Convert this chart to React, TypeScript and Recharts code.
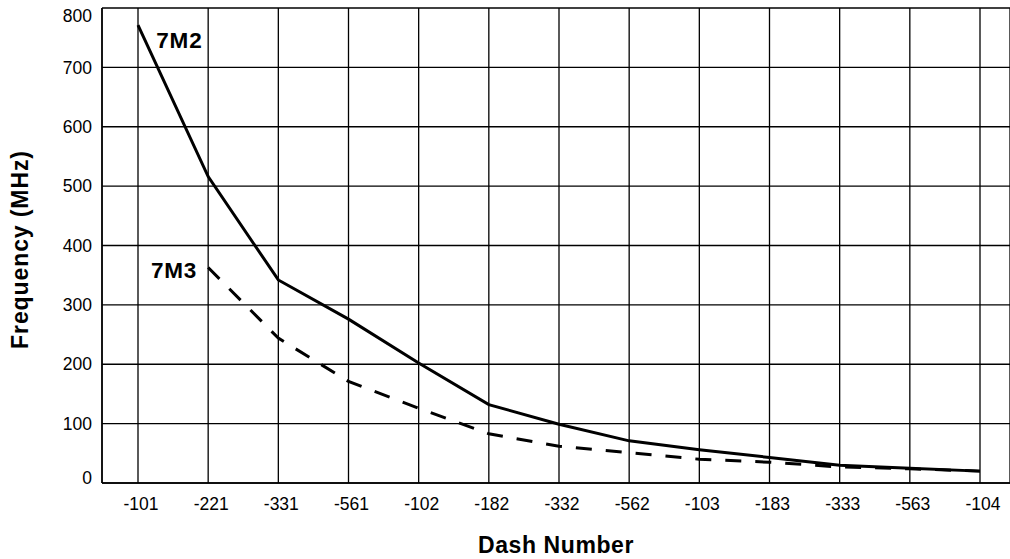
import React from 'react';
import { LineChart, Line, XAxis, YAxis, CartesianGrid } from 'recharts';

const dashNumbers = ['-101', '-221', '-331', '-561', '-102', '-182', '-332', '-562', '-103', '-183', '-333', '-563', '-104'];
const freq7M2 = [771, 516, 342, 276, 202, 132, 99, 71, 56, 43, 30, 25, 20];
const freq7M3: (number | null)[] = [null, 363, 244, 171, 126, 83, 62, 51, 40, 35, 27, 24, 20];
const yTicks = [0, 100, 200, 300, 400, 500, 600, 700, 800];
const seriesNames = ['7M2', '7M3'];

const data = dashNumbers.map((d, i) => ({ dash: d, s7M2: freq7M2[i], s7M3: freq7M3[i] }));

const FONT = '"Liberation Sans", Arial, Helvetica, sans-serif';

const firstIdx2 = freq7M2.findIndex((v) => v != null);
const firstIdx3 = freq7M3.findIndex((v) => v != null);

const makeSeriesLabel = (text: string, first: number, dx: number, dy: number, anchor: 'start' | 'end') => (props: any) => {
  const { x, y, index } = props;
  if (index !== first || x == null || y == null) return <g key={`l-${index}`} />;
  return (
    <text key={`l-${index}`} x={x + dx} y={y + dy} textAnchor={anchor} fontFamily={FONT} fontWeight="bold" fontSize={22.5} letterSpacing={0.8} fill="#000">
      {text}
    </text>
  );
};

const YTick = (props: any) => {
  const { x, y, payload } = props;
  let shift = 0;
  if (payload.value === 0) shift = -5;
  if (payload.value === 800) shift = 8;
  return (
    <text x={x} y={y + shift} dy="0.355em" textAnchor="end" fontFamily={FONT} fontSize={17.5} fill="#000">
      {payload.value}
    </text>
  );
};

const XTick = (props: any) => {
  const { x, y, payload } = props;
  return (
    <text x={x + 3} y={y} dy="0.71em" textAnchor="middle" fontFamily={FONT} fontSize={17.5} fill="#000">
      {payload.value}
    </text>
  );
};

const YTitle = (props: any) => {
  const vb = props.viewBox || {};
  const cx = (vb.x || 0) + 28;
  const cy = (vb.y || 0) + (vb.height || 0) / 2 + 4;
  return (
    <text x={cx} y={cy} transform={`rotate(-90 ${cx} ${cy})`} textAnchor="middle" fontFamily={FONT} fontWeight="bold" fontSize={23} letterSpacing={0.9} fill="#000">
      Frequency (MHz)
    </text>
  );
};

const XTitle = (props: any) => {
  const vb = props.viewBox || {};
  const cx = (vb.x || 0) + (vb.width || 0) / 2;
  const cy = (vb.y || 0) + 69.5;
  return (
    <text x={cx} y={cy} textAnchor="middle" fontFamily={FONT} fontWeight="bold" fontSize={23} letterSpacing={0.6} fill="#000">
      Dash Number
    </text>
  );
};

export default function App() {
  return (
    <div style={{ position: 'absolute', left: 0, top: 0, width: 1010, height: 559, background: '#fff' }}>
      <LineChart width={1010} height={559} data={data} margin={{ top: 8, right: 0, bottom: 0, left: 0 }}>
        <CartesianGrid stroke="#000" strokeWidth={1.3} />
        <XAxis
          dataKey="dash"
          interval={0}
          padding={{ left: 36, right: 30 }}
          height={76}
          tickLine={false}
          tickSize={6}
          tickMargin={9}
          axisLine={{ stroke: '#000', strokeWidth: 1.5 }}
          tick={<XTick />}
          label={{ content: <XTitle /> } as any}
        />
        <YAxis
          domain={[0, 800]}
          ticks={yTicks}
          width={102}
          tickLine={false}
          tickSize={6}
          tickMargin={4}
          axisLine={{ stroke: '#000', strokeWidth: 1.5 }}
          tick={<YTick />}
          interval={0}
          label={{ content: <YTitle /> } as any}
        />
        <Line
          type="linear"
          dataKey="s7M2"
          name={seriesNames[0]}
          stroke="#000"
          strokeWidth={3}
          dot={false}
          isAnimationActive={false}
          label={makeSeriesLabel(seriesNames[0], firstIdx2, 18.3, 22.5, 'start')}
        />
        <Line
          type="linear"
          dataKey="s7M3"
          name={seriesNames[1]}
          stroke="#000"
          strokeWidth={3}
          strokeDasharray="16 14"
          dot={false}
          isAnimationActive={false}
          label={makeSeriesLabel(seriesNames[1], firstIdx3, -11, 10.6, 'end')}
        />
      </LineChart>
    </div>
  );
}
